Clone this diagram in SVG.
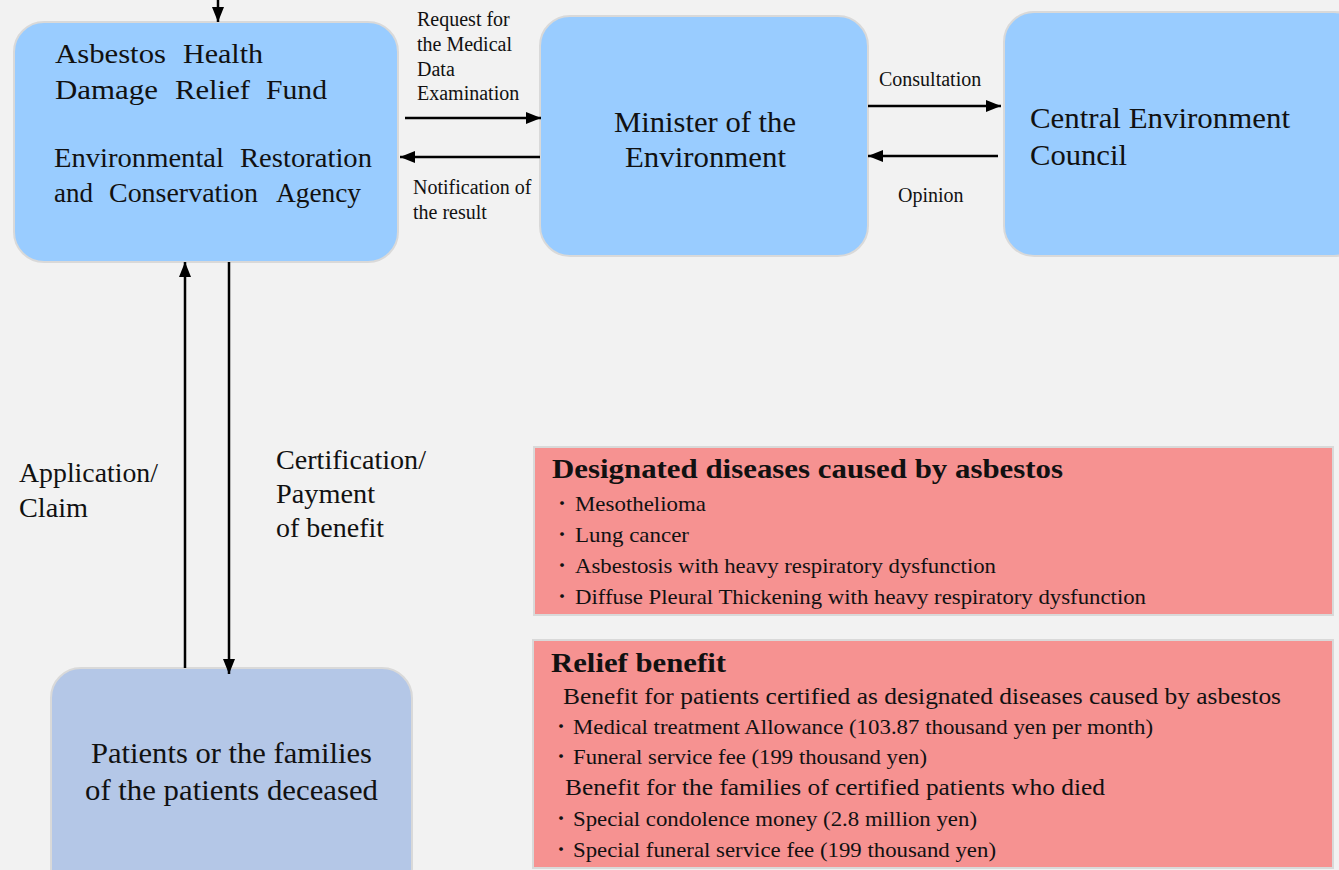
<svg xmlns="http://www.w3.org/2000/svg" width="1339" height="870" viewBox="0 0 1339 870">
<defs>
<marker id="ah" markerUnits="userSpaceOnUse" markerWidth="16" markerHeight="14" refX="15" refY="7" orient="auto">
<path d="M0,1 L15,7 L0,13 z" fill="#000"/>
</marker>
<style>
.bg{fill:#f2f2f2}
.blue{fill:#99ccff;stroke:#d9d9d9;stroke-width:2}
.pat{fill:#b4c7e7;stroke:#d9d9d9;stroke-width:2}
.pink{fill:#f69291;stroke:#d9d9d9;stroke-width:2}
text{font-family:"Liberation Serif","Noto Sans CJK JP",serif;fill:#111}
.fund{font-size:28px}
.big{font-size:29px}
.lbl{font-size:20px}
.side{font-size:27px}
.ttl{font-size:28px;font-weight:bold}
.item{font-size:21px}
.sub{font-size:23px}
.bul{font-size:18px}
.conn line{stroke:#000;stroke-width:2.5;marker-end:url(#ah)}
</style>
</defs>
<rect class="bg" x="0" y="0" width="1339" height="870"/>

<g id="fund">
<rect class="blue" x="14" y="22" width="384" height="240" rx="30"/>
<text class="fund" x="55" y="63" textLength="111" lengthAdjust="spacingAndGlyphs">Asbestos</text>
<text class="fund" x="183" y="63" textLength="80" lengthAdjust="spacingAndGlyphs">Health</text>
<text class="fund" x="55" y="99" textLength="103" lengthAdjust="spacingAndGlyphs">Damage</text>
<text class="fund" x="175" y="99" textLength="75" lengthAdjust="spacingAndGlyphs">Relief</text>
<text class="fund" x="266" y="99" textLength="61" lengthAdjust="spacingAndGlyphs">Fund</text>
<text class="fund" x="54" y="167" textLength="170" lengthAdjust="spacingAndGlyphs">Environmental</text>
<text class="fund" x="240" y="167" textLength="132" lengthAdjust="spacingAndGlyphs">Restoration</text>
<text class="fund" x="54" y="202" textLength="39" lengthAdjust="spacingAndGlyphs">and</text>
<text class="fund" x="109" y="202" textLength="149" lengthAdjust="spacingAndGlyphs">Conservation</text>
<text class="fund" x="276" y="202" textLength="85" lengthAdjust="spacingAndGlyphs">Agency</text>
</g>

<g id="minister">
<rect class="blue" x="540" y="16" width="328" height="240" rx="30"/>
<text class="big" x="614" y="132" textLength="182" lengthAdjust="spacingAndGlyphs">Minister of the</text>
<text class="big" x="625" y="167" textLength="161" lengthAdjust="spacingAndGlyphs">Environment</text>
</g>

<g id="council">
<rect class="blue" x="1004" y="12" width="360" height="244" rx="30"/>
<text class="big" x="1030" y="128" textLength="260" lengthAdjust="spacingAndGlyphs">Central Environment</text>
<text class="big" x="1030" y="165" textLength="97" lengthAdjust="spacingAndGlyphs">Council</text>
</g>

<g id="patients">
<rect class="pat" x="51" y="668" width="361" height="230" rx="30"/>
<text class="big" x="91" y="763" textLength="281" lengthAdjust="spacingAndGlyphs">Patients or the families</text>
<text class="big" x="85" y="800" textLength="293" lengthAdjust="spacingAndGlyphs">of the patients deceased</text>
</g>

<g id="diseases">
<rect class="pink" x="534" y="447" width="799" height="168"/>
<text class="ttl" x="552" y="478" textLength="511" lengthAdjust="spacingAndGlyphs">Designated diseases caused by asbestos</text>
<text class="bul" x="553" y="510">・</text>
<text class="item" x="575" y="511" textLength="131" lengthAdjust="spacingAndGlyphs">Mesothelioma</text>
<text class="bul" x="553" y="541">・</text>
<text class="item" x="575" y="542" textLength="114" lengthAdjust="spacingAndGlyphs">Lung cancer</text>
<text class="bul" x="553" y="572">・</text>
<text class="item" x="575" y="573" textLength="421" lengthAdjust="spacingAndGlyphs">Asbestosis with heavy respiratory dysfunction</text>
<text class="bul" x="553" y="603">・</text>
<text class="item" x="575" y="604" textLength="571" lengthAdjust="spacingAndGlyphs">Diffuse Pleural Thickening with heavy respiratory dysfunction</text>
</g>

<g id="relief">
<rect class="pink" x="533" y="640" width="800" height="228"/>
<text class="ttl" x="551" y="672" textLength="175" lengthAdjust="spacingAndGlyphs">Relief benefit</text>
<text class="sub" x="563" y="704" textLength="718" lengthAdjust="spacingAndGlyphs">Benefit for patients certified as designated diseases caused by asbestos</text>
<text class="bul" x="552" y="733">・</text>
<text class="item" x="573" y="734" textLength="580" lengthAdjust="spacingAndGlyphs">Medical treatment Allowance (103.87 thousand yen per month)</text>
<text class="bul" x="552" y="763">・</text>
<text class="item" x="573" y="764" textLength="354" lengthAdjust="spacingAndGlyphs">Funeral service fee (199 thousand yen)</text>
<text class="sub" x="565" y="795" textLength="540" lengthAdjust="spacingAndGlyphs">Benefit for the families of certified patients who died</text>
<text class="bul" x="552" y="825">・</text>
<text class="item" x="573" y="826" textLength="404" lengthAdjust="spacingAndGlyphs">Special condolence money (2.8 million yen)</text>
<text class="bul" x="552" y="856">・</text>
<text class="item" x="573" y="857" textLength="423" lengthAdjust="spacingAndGlyphs">Special funeral service fee (199 thousand yen)</text>
</g>

<g id="connectors" class="conn">
<line x1="218" y1="0" x2="218" y2="22"/>
<line x1="405" y1="118" x2="541" y2="118"/>
<line x1="540" y1="157" x2="400" y2="157"/>
<line x1="868" y1="106" x2="1001" y2="106"/>
<line x1="998" y1="156" x2="868" y2="156"/>
<line x1="185" y1="668" x2="185" y2="262"/>
<line x1="229" y1="262" x2="229" y2="674"/>
</g>

<g id="labels">
<text class="lbl" x="417" y="26">Request for</text>
<text class="lbl" x="417" y="51">the Medical</text>
<text class="lbl" x="417" y="76">Data</text>
<text class="lbl" x="417" y="100">Examination</text>
<text class="lbl" x="413" y="194">Notification of</text>
<text class="lbl" x="413" y="219">the result</text>
<text class="lbl" x="879" y="86">Consultation</text>
<text class="lbl" x="898" y="202">Opinion</text>
<text class="side" x="19" y="482" textLength="139" lengthAdjust="spacingAndGlyphs">Application/</text>
<text class="side" x="19" y="517" textLength="69" lengthAdjust="spacingAndGlyphs">Claim</text>
<text class="side" x="276" y="469" textLength="150" lengthAdjust="spacingAndGlyphs">Certification/</text>
<text class="side" x="276" y="503" textLength="99" lengthAdjust="spacingAndGlyphs">Payment</text>
<text class="side" x="276" y="537" textLength="108" lengthAdjust="spacingAndGlyphs">of benefit</text>
</g>
</svg>
